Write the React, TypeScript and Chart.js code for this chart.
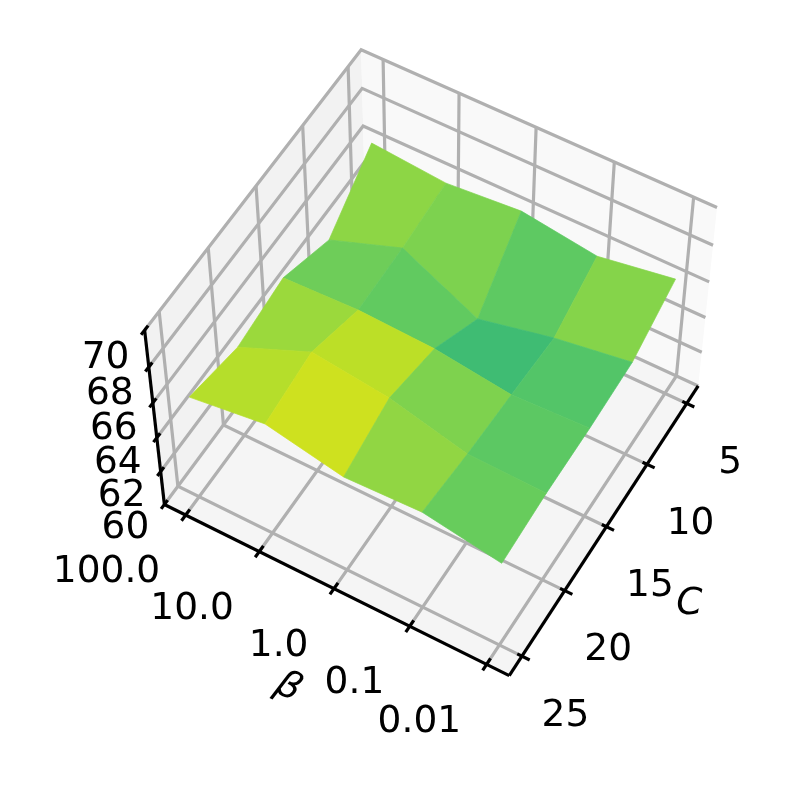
import React, { useEffect, useRef } from 'react';
import { Chart, registerables } from 'chart.js';

Chart.register(...registerables);

// Data
const cValues = [5, 10, 15, 20, 25];
const betaLabels = ['100.0', '10.0', '1.0', '0.1', '0.01'];
const zTicks = [60, 62, 64, 66, 68, 70];
// one row per C value, one column per beta value
const accuracyC5 = [66.5, 66.15, 66.48, 65.9, 66.57];
const accuracyC10 = [64.39, 65.84, 63.81, 64.73, 65.38];
const accuracyC15 = [65.6, 65.77, 65.6, 65.04, 65.23];
const accuracyC20 = [65.15, 66.9, 66.38, 65.31, 65.23];
const accuracyC25 = [65.88, 66.46, 65.58, 65.75, 65.02];
const accuracy = [accuracyC5, accuracyC10, accuracyC15, accuracyC20, accuracyC25];

// viridis, upper part
const viridisT = [0.5, 0.55, 0.6, 0.65, 0.7, 0.75, 0.8, 0.85, 0.9, 0.95, 1];
const viridisRGB = [[33,145,140],[31,158,137],[34,168,132],[53,183,121],[68,191,112],[94,201,98],[122,209,81],[155,217,60],[189,223,38],[223,227,24],[253,231,37]];
const colorMin = 60.5;
const colorMax = 66.8;

const W = 794, H = 795;
const xLim = [3.5417, 26.4583];
const yLim = [-0.2917, 4.2917];
const zLim = [60, 70];
const view = { elev: 54.476, azim: 29.992, dist: 10, focal: 3538.2, cx: 434.43, cy: 359.39 };

const FONT = '37.5px "DejaVu Sans"';
const GRID = '#b0b0b0';
const LW = 3.2;

const aspect = [4, 4, 3];
const nrm = Math.hypot(4, 4, 3);
const box = aspect.map((v) => (v * 1.8294640721620434) / nrm);
const rad = Math.PI / 180;
const wv = [Math.cos(view.elev * rad) * Math.cos(view.azim * rad), Math.cos(view.elev * rad) * Math.sin(view.azim * rad), Math.sin(view.elev * rad)];
const eye = box.map((v, i) => v / 2 + view.dist * wv[i]);
const un = Math.hypot(wv[0], wv[1]);
const uv = [-wv[1] / un, wv[0] / un, 0];
const vv = [wv[1] * uv[2] - wv[2] * uv[1], wv[2] * uv[0] - wv[0] * uv[2], wv[0] * uv[1] - wv[1] * uv[0]];
const toBox = (x: number, y: number, z: number) => [
  ((x - xLim[0]) / (xLim[1] - xLim[0])) * box[0],
  ((y - yLim[0]) / (yLim[1] - yLim[0])) * box[1],
  ((z - zLim[0]) / (zLim[1] - zLim[0])) * box[2],
];
const dot = (a: number[], b: number[]) => a[0] * b[0] + a[1] * b[1] + a[2] * b[2];
const project = (x: number, y: number, z: number) => {
  const r = toBox(x, y, z).map((q, i) => q - eye[i]);
  const d = -dot(wv, r);
  return { x: view.cx + (view.focal * dot(uv, r)) / d, y: view.cy - (view.focal * dot(vv, r)) / d };
};
const depth = (x: number, y: number, z: number) => -dot(wv, toBox(x, y, z).map((q, i) => q - eye[i]));

const viridis = (t: number) => {
  const c = Math.min(1, Math.max(0.5, t));
  let i = 0;
  while (i < viridisT.length - 2 && c > viridisT[i + 1]) i++;
  const f = (c - viridisT[i]) / (viridisT[i + 1] - viridisT[i]);
  const rgb = viridisRGB[i].map((v, k) => Math.round(v + (viridisRGB[i + 1][k] - v) * f));
  return `rgb(${rgb[0]},${rgb[1]},${rgb[2]})`;
};

const lineSet = (pts: number[][], color: string, width: number) => ({
  data: pts.map((p) => project(p[0], p[1], p[2])),
  borderColor: color,
  borderWidth: width,
  pointRadius: 0,
  fill: false,
  tension: 0,
  borderCapStyle: 'butt',
  borderJoinStyle: 'miter',
  clip: false,
});
const polySet = (pts: number[][], color: string, edge = 0) => ({
  data: pts.map((p) => project(p[0], p[1], p[2])),
  borderColor: color,
  borderWidth: edge,
  backgroundColor: color,
  pointRadius: 0,
  fill: 'shape',
  tension: 0,
  clip: false,
});

function buildDatasets() {
  const [x0, x1] = xLim, [y0, y1] = yLim, [z0, z1] = zLim;
  const back: any[] = [];
  back.push(polySet([[x0,y0,z0],[x1,y0,z0],[x1,y1,z0],[x0,y1,z0],[x0,y0,z0]], '#f5f5f5'));
  back.push(polySet([[x0,y0,z0],[x1,y0,z0],[x1,y0,z1],[x0,y0,z1],[x0,y0,z0]], '#f2f2f2'));
  back.push(polySet([[x0,y0,z0],[x0,y1,z0],[x0,y1,z1],[x0,y0,z1],[x0,y0,z0]], '#f9f9f9'));
  cValues.forEach((c) => back.push(lineSet([[c,y1,z0],[c,y0,z0],[c,y0,z1]], GRID, LW)));
  betaLabels.forEach((_, i) => back.push(lineSet([[x1,i,z0],[x0,i,z0],[x0,i,z1]], GRID, LW)));
  zTicks.forEach((z) => back.push(lineSet([[x1,y0,z],[x0,y0,z],[x0,y1,z]], GRID, LW)));

  const faces: { d: number; set: any }[] = [];
  for (let j = 0; j < cValues.length - 1; j++) {
    for (let i = 0; i < betaLabels.length - 1; i++) {
      const pts = [
        [cValues[j], i, accuracy[j][i]],
        [cValues[j], i + 1, accuracy[j][i + 1]],
        [cValues[j + 1], i + 1, accuracy[j + 1][i + 1]],
        [cValues[j + 1], i, accuracy[j + 1][i]],
        [cValues[j], i, accuracy[j][i]],
      ];
      const mean = (pts[0][2] + pts[1][2] + pts[2][2] + pts[3][2]) / 4;
      const d = pts.slice(0, 4).reduce((t, p) => t + depth(p[0], p[1], p[2]), 0) / 4;
      faces.push({ d, set: polySet(pts, viridis((mean - colorMin) / (colorMax - colorMin)), 0.7) });
    }
  }
  faces.sort((a, b) => b.d - a.d);

  const axes: any[] = [];
  axes.push(lineSet([[x1,y0,z0],[x1,y1,z0]], '#000', LW));
  axes.push(lineSet([[x1,y1,z0],[x0,y1,z0]], '#000', LW));
  axes.push(lineSet([[x1,y0,z0],[x1,y0,z1]], '#000', LW));
  cValues.forEach((c) => axes.push(lineSet([[c,y1-0.06,z0],[c,y1+0.1,z0]], '#000', LW)));
  betaLabels.forEach((_, i) => axes.push(lineSet([[x1-0.45,i,z0],[x1+0.45,i,z0]], '#000', LW)));
  zTicks.forEach((z) => axes.push(lineSet([[x1-0.35,y0,z],[x1+0.35,y0,z]], '#000', LW)));

  // Chart.js paints the last dataset first, so the list runs front to back
  return [...axes.reverse(), ...faces.map((f) => f.set).reverse(), ...back.reverse()];
}

const labelPlugin = {
  id: 'axisText',
  afterDraw(chart: any) {
    const { ctx, scales } = chart;
    const px = (p: { x: number; y: number }) => ({ x: scales.x.getPixelForValue(p.x), y: scales.y.getPixelForValue(p.y) });
    ctx.save();
    ctx.fillStyle = '#000';
    ctx.font = FONT;
    ctx.textBaseline = 'middle';
    ctx.textAlign = 'center';
    cValues.forEach((c) => {
      const p = px(project(c, yLim[1], 60));
      ctx.fillText(String(c), p.x + 43.5, p.y + 60);
    });
    zTicks.forEach((z) => {
      const p = px(project(xLim[1], yLim[0], z));
      ctx.fillText(String(z), p.x - 39, p.y + 24 + (z - 60) * 0.4);
    });
    ctx.textAlign = 'right';
    betaLabels.forEach((t, i) => {
      const p = px(project(xLim[1], i, 60));
      ctx.fillText(t, p.x - 25.5, p.y + 57.5);
    });
    ctx.textAlign = 'center';
    ctx.font = 'italic ' + FONT;
    const a = px(project(xLim[1], 2, 60));
    ctx.save();
    ctx.translate(a.x - 46, a.y + 99);
    ctx.rotate(26.5 * rad);
    ctx.fillText('β', 0, 0);
    ctx.restore();
    const b = px(project(15, yLim[1], 60));
    ctx.fillText('C', b.x + 83, b.y + 78);
    ctx.restore();
  },
};

export default function App() {
  const ref = useRef<HTMLCanvasElement>(null);
  useEffect(() => {
    document.body.style.margin = '0';
    const chart = new Chart(ref.current as HTMLCanvasElement, {
      type: 'line',
      data: { datasets: buildDatasets() as any },
      options: {
        animation: false,
        responsive: false,
        parsing: false as any,
        layout: { padding: 0 },
        plugins: { legend: { display: false }, tooltip: { enabled: false } },
        scales: {
          x: { type: 'linear', display: false, min: 0, max: W },
          y: { type: 'linear', display: false, min: 0, max: H, reverse: true },
        },
      },
      plugins: [labelPlugin],
    });
    return () => chart.destroy();
  }, []);
  return <canvas ref={ref} width={W} height={H} style={{ display: 'block' }} />;
}
